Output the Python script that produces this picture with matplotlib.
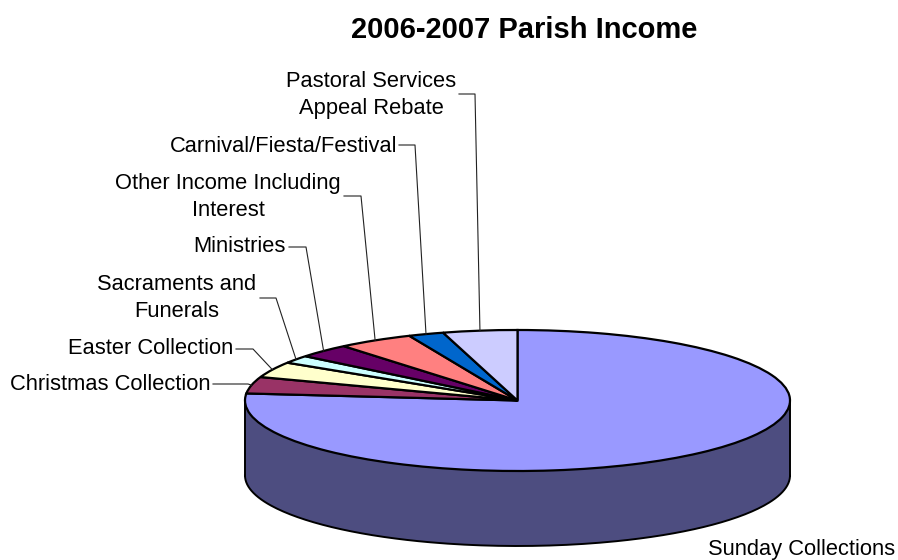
import numpy as np
import matplotlib
matplotlib.use("Agg")
import matplotlib.pyplot as plt

plt.rcParams['font.family'] = ['Liberation Sans', 'DejaVu Sans']

W, H = 898, 560

categories = ["Sunday Collections", "Christmas Collection", "Easter Collection",
              "Sacraments and\nFunerals", "Ministries", "Other Income Including\nInterest",
              "Carnival/Fiesta/Festival", "Pastoral Services\nAppeal Rebate"]
shares = [76.6, 3.8, 3.6, 1.8, 3.2, 4.5, 2.1, 4.4]
colors = ["#9999ff", "#993366", "#ffffcc", "#ccffff", "#660066", "#ff8080", "#0066cc", "#ccccff"]

# label placement in pixels: x, y, horizontal alignment
label_pos = [(708, 550, "left"), (211, 385, "right"), (233, 349, "right"),
             (177, 298, "center"), (286, 247, "right"), (228, 197, "center"),
             (397, 146, "right"), (371, 95, "center")]
# leader elbows in pixels (start, corner), None = no leader
elbows = [None, [(213, 384), (248, 384)], [(236, 349), (253, 349)],
          [(260, 298), (276, 298)], [(289, 247), (306, 247)], [(344, 196), (361, 196)],
          [(399, 145), (415, 145)], [(459, 94), (475, 94)]]


def fx(x):
    return x / W


def fy(y):
    return 1 - y / H


fig = plt.figure(figsize=(W / 100, H / 100), dpi=100, facecolor="white")
ax = fig.add_axes([fx(245), fy(471), 545 / W, 141 / H])

wedges, _ = ax.pie(shares, colors=colors, startangle=90, counterclock=False, radius=1,
                   wedgeprops={"edgecolor": "black", "linewidth": 1.6})
ax.set_aspect("auto")
ax.set_xlim(-1, 1)
ax.set_ylim(-1, 1)

# side of the squashed pie
depth = 75 / 70.5
t = np.radians(np.linspace(180, 360, 200))
ax.fill_between(np.cos(t), np.sin(t), np.sin(t) - depth, facecolor="#4d4d80",
                edgecolor="none", clip_on=False, zorder=0)
ax.plot(np.cos(t), np.sin(t) - depth, color="black", lw=1.4, clip_on=False, zorder=1)
ax.plot([-1, -1], [0, -depth], color="black", lw=1.4, clip_on=False, zorder=1)
ax.plot([1, 1], [0, -depth], color="black", lw=1.4, clip_on=False, zorder=1)

for w, name, (x, y, ha), elbow in zip(wedges, categories, label_pos, elbows):
    fig.text(fx(x), fy(y), name, ha=ha, va="center", ma="center", fontsize=15.75,
             linespacing=1.38, color="black")
    if elbow is None:
        continue
    mid = np.radians((w.theta1 + w.theta2) / 2)
    px = ax.transData.transform((np.cos(mid), np.sin(mid)))
    end = fig.transFigure.inverted().transform(px)
    fig.add_artist(plt.Line2D([fx(elbow[0][0]), fx(elbow[1][0]), end[0]],
                              [fy(elbow[0][1]), fy(elbow[1][1]), end[1]],
                              color="#222222", lw=0.8))

fig.text(fx(524), fy(30), "2006-2007 Parish Income", ha="center", va="center",
         fontsize=20.95, fontweight="bold", color="black")

fig.savefig("out.png", dpi=100, facecolor="white")
